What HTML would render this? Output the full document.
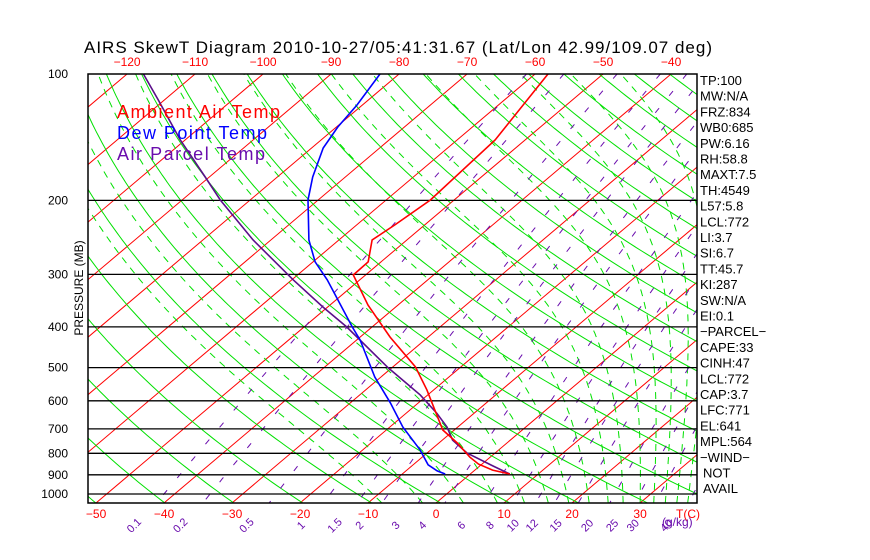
<!DOCTYPE html>
<html><head><meta charset="utf-8"><style>
html,body{margin:0;padding:0;background:#fff;}
svg{display:block;font-family:"Liberation Sans",sans-serif;}
</style></head><body>
<svg id="chart" width="870" height="560" viewBox="0 0 870 560" xmlns="http://www.w3.org/2000/svg">
<defs><clipPath id="plotclip"><rect x="88" y="74" width="609" height="429"/></clipPath></defs>
<rect x="0" y="0" width="870" height="560" fill="#fff"/>
<text x="84" y="53" font-size="17" textLength="628">AIRS SkewT Diagram 2010-10-27/05:41:31.67 (Lat/Lon 42.99/109.07 deg)</text>
<g id="grid" clip-path="url(#plotclip)"></g>
<g id="series" clip-path="url(#plotclip)"></g>
<g id="legend">
<text x="117" y="118" font-size="18" textLength="163" fill="#ff0000">Ambient Air Temp</text>
<text x="117" y="139" font-size="18" textLength="150" fill="#0000ff">Dew Point Temp</text>
<text x="117" y="160" font-size="18" textLength="148" fill="#6a0dad">Air Parcel Temp</text>
</g>
<text transform="translate(83,288) rotate(-90)" font-size="12" text-anchor="middle">PRESSURE (MB)</text>
<g id="axes"></g>
<rect x="88" y="74" width="609" height="429" fill="none" stroke="#000" stroke-width="1.5"/>
<g id="info"></g>
</svg>
<script>
// ---- data ----
const pressureTicks = [100,200,300,400,500,600,700,800,900,1000];
const topTempTicks = [-120,-110,-100,-90,-80,-70,-60,-50,-40];
const bottomTempTicks = [-50,-40,-30,-20,-10,0,10,20,30];
const mixRatios = [0.1,0.2,0.5,1,1.5,2,3,4,6,8,10,12,15,20,25,30,40];
const tempP = [100,143.6,199.5,228.8,248.5,280,301,355,423,498,565,642,704,756,817,849,877,896];
const tempT = [-58.1,-54.4,-53.5,-54.4,-55.1,-51.9,-51.8,-44.4,-35.6,-26.7,-21,-15.6,-11.7,-7.3,-3.0,-0.5,2.6,5.8];
const dewP = [100,118.5,133.7,150,175.9,199.5,248.5,280,309,400.4,429.9,526.5,607,692.6,785,852,881,896];
const dewT = [-82.8,-80.8,-79.8,-78.3,-74.8,-71.5,-64.4,-59.7,-54.8,-42.9,-39.5,-30.9,-24.1,-18.1,-11.6,-7.8,-5.4,-3.7];
const parcelP = [100,115.3,143.6,175.9,199.5,248.5,309,358.8,400.4,501,581,642,692.6,744,799,858,896];
const parcelT = [-117.6,-110.9,-100.7,-90.6,-84.4,-72.6,-59.8,-50.7,-43.7,-30.5,-21.1,-15.5,-11.6,-8.5,-4.1,2.0,5.8];
const infoLabels = ["TP:100","MW:N/A","FRZ:834","WB0:685","PW:6.16","RH:58.8","MAXT:7.5","TH:4549","L57:5.8","LCL:772","LI:3.7","SI:6.7","TT:45.7","KI:287","SW:N/A","EI:0.1","\u2212PARCEL\u2212","CAPE:33","CINH:47","LCL:772","CAP:3.7","LFC:771","EL:641","MPL:564","\u2212WIND\u2212","NOT","AVAIL"];
const moistStartT = [-8,-2,4,9,13,16.5,19.5,22.5,25.3,27.5,30,32,33.7,35.4,37];

// ---- axes functions ----
const Y0=74, PB=1050, YB=503, KLOG=182.4, SK=1.182, XT0=436, XS=6.8;
function yOf(p){return Y0+KLOG*Math.log(p/100);}
function xOf(T,p){return XT0+XS*T+SK*(YB-yOf(p));}
const NS='http://www.w3.org/2000/svg';
function mk(tag,attrs,parent){const e=document.createElementNS(NS,tag);for(const k in attrs)e.setAttribute(k,attrs[k]);parent.appendChild(e);return e;}
function presList(){const a=[];for(let p=100;p<=1050;p*=1.02)a.push(p);a.push(1050);return a;}
const grid=document.getElementById('grid'), series=document.getElementById('series'), axes=document.getElementById('axes'), info=document.getElementById('info');

// isotherms
for(let T=-170;T<=50;T+=10){
  const l=mk('line',{x1:xOf(T,1050),y1:yOf(1050),x2:xOf(T,100),y2:yOf(100),stroke:'#ff0000','stroke-width':1},grid);
  
  
}
// dry adiabats
for(let th=200;th<=520;th+=10){
  const pts=presList().map(p=>{const T=th*Math.pow(p/1000,0.286)-273.15;return xOf(T,p).toFixed(1)+','+yOf(p).toFixed(1);});
  const l=mk('polyline',{points:pts.join(' '),fill:'none',stroke:'#00e000','stroke-width':1},grid);
  
  
}
// moist adiabats
function es(Tc){return 6.112*Math.exp(17.67*Tc/(Tc+243.5));}
for(const T0 of moistStartT){
  let T=T0+273.15, p=1050; const pts=[];
  while(p>=100){
    pts.push(xOf(T-273.15,p).toFixed(1)+','+yOf(p).toFixed(1));
    const e=es(T-273.15), rs=0.622*e/(p-e), Lv=2.5e6, Rd=287, cp=1004;
    const dTdp=(Rd*T+Lv*rs)/(p*(cp+Lv*Lv*rs*0.622/(Rd*T*T)));
    const dp=-5; T+=dTdp*dp; p+=dp;
  }
  const l=mk('polyline',{points:pts.join(' '),fill:'none',stroke:'#00e000','stroke-width':1,'stroke-dasharray':'7,6'},grid);
  
  
}
// mixing ratio lines
function tdOf(w,p){const e=w*p/(622+w);const g=Math.log(e/6.112);return 243.5*g/(17.67-g);}
for(const w of mixRatios){
  const pts=presList().map(p=>xOf(tdOf(w,p),p).toFixed(1)+','+yOf(p).toFixed(1));
  const l=mk('polyline',{points:pts.join(' '),fill:'none',stroke:'#6a0dad','stroke-width':1,'stroke-dasharray':'6,16'},grid);
  
  
  const x=xOf(tdOf(w,1050),1050)-20;
  const t=mk('text',{transform:`translate(${x.toFixed(1)},528) rotate(-45)`,'font-size':11,fill:'#6a0dad','text-anchor':'middle'},axes);
  t.textContent=String(w);
  
  
}
const gk=mk('text',{x:662,y:526,'font-size':12,fill:'#6a0dad'},axes);
gk.textContent='(g/kg)';



// isobars + pressure labels
for(const p of pressureTicks){
  if(p>100){
    const l=mk('line',{x1:88,y1:yOf(p).toFixed(1),x2:697,y2:yOf(p).toFixed(1),stroke:'#000','stroke-width':1.3},grid);
    
    
  }
  const t=mk('text',{x:68,y:(yOf(p)+4).toFixed(1),'font-size':12,'text-anchor':'end'},axes);
  t.textContent=String(p);
  
  
}
// temperature labels
for(const T of topTempTicks){
  const t=mk('text',{x:xOf(T,100).toFixed(1),y:66,'font-size':12,fill:'#ff0000','text-anchor':'middle'},axes);
  t.textContent=String(T).replace('-','\u2212');
  
  
}
for(const T of bottomTempTicks){
  const t=mk('text',{x:xOf(T,1050).toFixed(1),y:518,'font-size':12,fill:'#ff0000','text-anchor':'middle'},axes);
  t.textContent=String(T).replace('-','\u2212');
  
  
}
const tc=mk('text',{x:676,y:518,'font-size':12,fill:'#ff0000'},axes);
tc.textContent='T(C)';



// series
function drawSeries(P,T,color,name){
  const pts=P.map((p,i)=>xOf(T[i],p).toFixed(1)+','+yOf(p).toFixed(1));
  const l=mk('polyline',{points:pts.join(' '),fill:'none',stroke:color,'stroke-width':1.6},series);
  
  
}
drawSeries(parcelP,parcelT,'#5a0f8a','air-parcel-temp-line');
drawSeries(dewP,dewT,'#0000ff','dew-point-temp-line');
drawSeries(tempP,tempT,'#ff0000','ambient-air-temp-line');

// info panel
infoLabels.forEach((s,i)=>{
  const t=mk('text',{x:i>=25?703:700,y:(85+i*15.7).toFixed(1),'font-size':13},info);
  t.textContent=s;
  
  
});
</script>
</body></html>
